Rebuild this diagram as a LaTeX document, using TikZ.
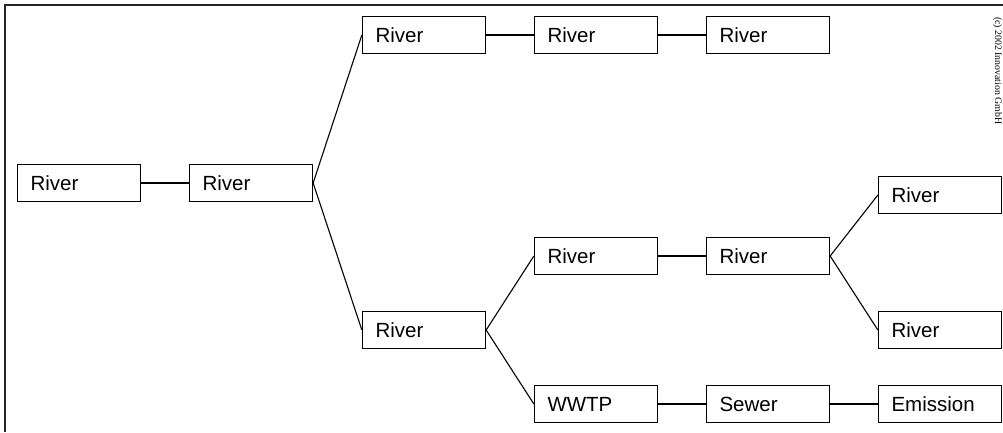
\documentclass[tikz,border=0pt]{standalone}
\usepackage{fontspec}
\setmainfont{Liberation Sans}
\newfontfamily\notefont{Liberation Serif}
\begin{document}
\begin{tikzpicture}[x=1pt,y=-1pt,
  stagebox/.style={draw=black, line width=1.3pt, fill=white,
    minimum width=123pt, minimum height=37.5pt, inner xsep=13pt,
    text width=97pt, align=left, font=\fontsize{20.5}{23}\selectfont},
  link/.style={draw=black, line width=1.1pt},
  frameline/.style={draw=black!85, line width=2pt}]
\useasboundingbox (0,0) rectangle (1003,432);
% outer frame: top and left edges only
\draw[frameline] (5,432) -- (5,5) -- (1003,5);

% stages
\node[stagebox] (r1) at (79,183) {River};
\node[stagebox] (r2) at (251,183) {River};
\node[stagebox] (r3) at (424,35) {River};
\node[stagebox] (r4) at (596,35) {River};
\node[stagebox] (r5) at (768,35) {River};
\node[stagebox] (r6) at (424,330) {River};
\node[stagebox] (r7) at (596,256) {River};
\node[stagebox] (r8) at (768,256) {River};
\node[stagebox] (r9) at (940,195) {River};
\node[stagebox] (r10) at (940,330) {River};
\node[stagebox] (w) at (596,404) {WWTP};
\node[stagebox] (s) at (768,404) {Sewer};
\node[stagebox] (e) at (940,404) {Emission};

% connections
\draw[link] (r1.east) -- (r2.west);
\draw[link] (r2.east) -- (r3.west);
\draw[link] (r2.east) -- (r6.west);
\draw[link] (r3.east) -- (r4.west);
\draw[link] (r4.east) -- (r5.west);
\draw[link] (r6.east) -- (r7.west);
\draw[link] (r6.east) -- (w.west);
\draw[link] (r7.east) -- (r8.west);
\draw[link] (r8.east) -- (r9.west);
\draw[link] (r8.east) -- (r10.west);
\draw[link] (w.east) -- (s.west);
\draw[link] (s.east) -- (e.west);

% copyright note
\node[rotate=-90, anchor=north west, inner sep=0pt, text=black,
  font=\notefont\fontsize{9.8}{11}\selectfont] (copy) at (1002,17)
  {(c) 2002 Innovation GmbH};
\end{tikzpicture}
\end{document}
